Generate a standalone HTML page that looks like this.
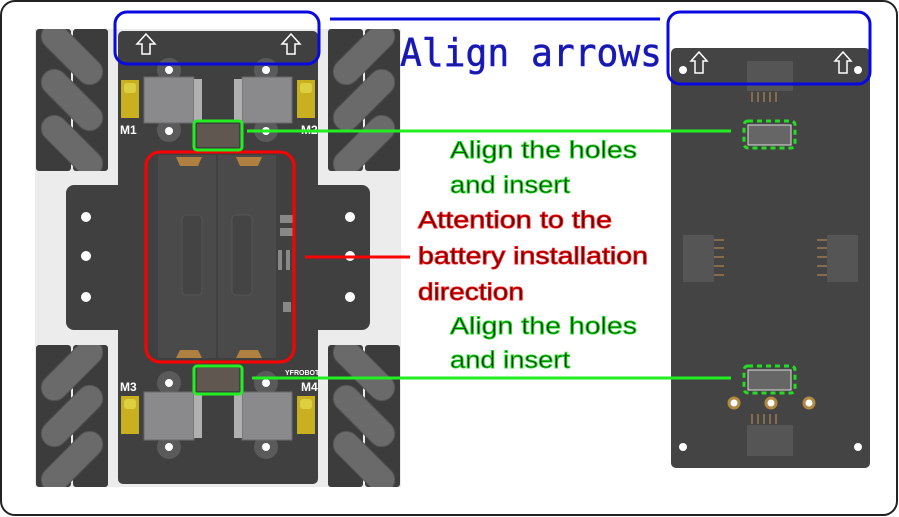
<!DOCTYPE html>
<html><head><meta charset="utf-8"><style>
html,body{margin:0;padding:0;background:#fff;}
svg{display:block;}
</style></head><body>
<svg width="899" height="517" viewBox="0 0 899 517" style="font-family:'Liberation Sans','DejaVu Sans',sans-serif">
<defs>
<clipPath id="cFL"><rect x="36" y="29" width="72" height="142"/></clipPath>
<clipPath id="cFR"><rect x="328" y="29" width="72" height="142"/></clipPath>
<clipPath id="cRL"><rect x="36" y="345" width="72" height="142"/></clipPath>
<clipPath id="cRR"><rect x="328" y="345" width="72" height="142"/></clipPath>
</defs>
<rect x="1" y="1" width="896" height="514" rx="14" fill="#fff" stroke="#222" stroke-width="2"/>

<g>
<rect x="35" y="29" width="366" height="458" fill="#ececec"/>
<g clip-path="url(#cFL)">
<rect x="36" y="29" width="35" height="142" rx="3" fill="#3c3c3c"/><rect x="73" y="29" width="35" height="142" rx="3" fill="#3c3c3c"/>
<g fill="#6a6a6a" stroke="#555"><rect x="34" y="41" width="76" height="26" rx="13" transform="rotate(45 72 54)"/><rect x="34" y="87" width="76" height="26" rx="13" transform="rotate(45 72 100)"/><rect x="34" y="133" width="76" height="26" rx="13" transform="rotate(45 72 146)"/></g></g>
<g clip-path="url(#cFR)">
<rect x="328" y="29" width="35" height="142" rx="3" fill="#3c3c3c"/><rect x="365" y="29" width="35" height="142" rx="3" fill="#3c3c3c"/>
<g fill="#6a6a6a" stroke="#555"><rect x="326" y="41" width="76" height="26" rx="13" transform="rotate(-45 364 54)"/><rect x="326" y="87" width="76" height="26" rx="13" transform="rotate(-45 364 100)"/><rect x="326" y="133" width="76" height="26" rx="13" transform="rotate(-45 364 146)"/></g></g>
<g clip-path="url(#cRL)">
<rect x="36" y="345" width="35" height="142" rx="3" fill="#3c3c3c"/><rect x="73" y="345" width="35" height="142" rx="3" fill="#3c3c3c"/>
<g fill="#6a6a6a" stroke="#555"><rect x="34" y="357" width="76" height="26" rx="13" transform="rotate(-45 72 370)"/><rect x="34" y="403" width="76" height="26" rx="13" transform="rotate(-45 72 416)"/><rect x="34" y="449" width="76" height="26" rx="13" transform="rotate(-45 72 462)"/></g></g>
<g clip-path="url(#cRR)">
<rect x="328" y="345" width="35" height="142" rx="3" fill="#3c3c3c"/><rect x="365" y="345" width="35" height="142" rx="3" fill="#3c3c3c"/>
<g fill="#6a6a6a" stroke="#555"><rect x="326" y="357" width="76" height="26" rx="13" transform="rotate(45 364 370)"/><rect x="326" y="403" width="76" height="26" rx="13" transform="rotate(45 364 416)"/><rect x="326" y="449" width="76" height="26" rx="13" transform="rotate(45 364 462)"/></g></g>
<g fill="#404040">
<rect x="118" y="31" width="200" height="453" rx="5"/>
<rect x="66" y="185" width="304" height="145" rx="8"/>
</g>
<g fill="#fff">
<circle cx="86" cy="217" r="5"/><circle cx="86" cy="256" r="5"/><circle cx="86" cy="297" r="5"/>
<circle cx="350" cy="217" r="5"/><circle cx="350" cy="256" r="5"/><circle cx="350" cy="297" r="5"/>
</g>
<g>
<g fill="#5a5a5a"><circle cx="169" cy="70" r="12"/><circle cx="266" cy="70" r="12"/><circle cx="169" cy="130" r="12"/><circle cx="266" cy="130" r="12"/>
<circle cx="169" cy="383" r="12"/><circle cx="266" cy="383" r="12"/><circle cx="169" cy="447" r="12"/><circle cx="266" cy="447" r="12"/></g>
<g fill="#fff"><circle cx="169" cy="70" r="4"/><circle cx="266" cy="70" r="4"/><circle cx="169" cy="131" r="4"/><circle cx="266" cy="131" r="4"/>
<circle cx="169" cy="383" r="4"/><circle cx="266" cy="383" r="4"/><circle cx="169" cy="447" r="4"/><circle cx="266" cy="447" r="4"/></g>
<g fill="#8a8a8c" stroke="#6a6a6a"><rect x="144" y="77" width="50" height="46"/><rect x="242" y="77" width="50" height="46"/><rect x="144" y="392" width="50" height="48"/><rect x="242" y="392" width="50" height="48"/></g>
<g fill="#b0b0b0"><rect x="194" y="79" width="8" height="42"/><rect x="234" y="79" width="8" height="42"/><rect x="194" y="394" width="8" height="44"/><rect x="234" y="394" width="8" height="44"/></g>
<g fill="#c8b020"><rect x="121" y="80" width="18" height="38"/><rect x="297" y="80" width="18" height="38"/><rect x="121" y="396" width="18" height="38"/><rect x="297" y="396" width="18" height="38"/></g>
<g fill="#ddd040"><rect x="124" y="83" width="12" height="10" rx="3"/><rect x="300" y="83" width="12" height="10" rx="3"/><rect x="124" y="399" width="12" height="10" rx="3"/><rect x="300" y="399" width="12" height="10" rx="3"/></g>
</g>
<g fill="#fff" font-size="12" font-weight="bold">
<text x="120" y="134">M1</text>
<text x="301" y="134">M2</text>
<text x="120" y="391">M3</text>
<text x="301" y="391">M4</text>
<text x="285" y="375" font-size="7">YFROBOT</text>
</g>
<g>
<rect x="158" y="155" width="58" height="203" fill="#4a4a4a"/><rect x="218" y="155" width="58" height="203" fill="#4a4a4a"/>
<rect x="182" y="215" width="20" height="80" rx="4" fill="#444" stroke="#555"/><rect x="232" y="215" width="20" height="80" rx="4" fill="#444" stroke="#555"/>
<g fill="#b08040"><polygon points="176,157 202,157 198,166 180,166"/><polygon points="236,157 262,157 258,166 240,166"/><polygon points="176,358 202,358 198,350 180,350"/><polygon points="236,358 262,358 258,350 240,350"/></g>
<g fill="#888"><rect x="280" y="215" width="14" height="8"/><rect x="280" y="228" width="14" height="8"/><rect x="278" y="250" width="4" height="20"/><rect x="286" y="250" width="4" height="20"/><rect x="283" y="302" width="8" height="10"/></g>
</g>
<g>
<rect x="197" y="124" width="42" height="23" fill="#605850"/><rect x="197" y="368" width="42" height="23" fill="#605850"/>
</g>
<g fill="#404040" stroke="#fff" stroke-width="1.5">
<polygon points="146,34 155,44 150,44 150,54 142,54 142,44 137,44"/>
<polygon points="291,34 300,44 295,44 295,54 287,54 287,44 282,44"/>
</g>
</g>

<g>
<rect x="671" y="48" width="199" height="420" rx="5" fill="#444"/>
<g fill="#555"><rect x="747" y="61" width="46" height="30"/><rect x="683" y="235" width="31" height="47"/><rect x="827" y="235" width="31" height="47"/><rect x="747" y="425" width="46" height="31"/></g>
<g stroke="#9a7a50" stroke-width="1.5">
<path d="M752 92v10M758 92v10M764 92v10M770 92v10M776 92v10M752 414v10M758 414v10M764 414v10M770 414v10M776 414v10"/>
<path d="M714 240h10M714 248h10M714 257h10M714 266h10M714 275h10M817 240h10M817 248h10M817 257h10M817 266h10M817 275h10"/>
</g>
<g fill="#fff"><circle cx="683" cy="70" r="4"/><circle cx="858" cy="70" r="4"/><circle cx="683" cy="447" r="4"/><circle cx="858" cy="447" r="4"/></g>
<g fill="#fff" stroke="#b08a40" stroke-width="3"><circle cx="734" cy="403" r="5"/><circle cx="771" cy="403" r="5"/><circle cx="809" cy="403" r="5"/></g>
<g fill="#666" stroke="#ddd" stroke-width="1"><rect x="748" y="125" width="43" height="20"/><rect x="748" y="370" width="43" height="20"/></g>
<g fill="#444" stroke="#fff" stroke-width="1.5">
<polygon points="699,52 707,61 703,61 703,73 695,73 695,61 691,61"/>
<polygon points="843,52 851,61 847,61 847,73 839,73 839,61 835,61"/>
</g>
<g fill="none" stroke="#22dd22" stroke-width="3" stroke-dasharray="5,4">
<rect x="744" y="121" width="51" height="27" rx="4"/>
<rect x="744" y="366" width="51" height="27" rx="4"/>
</g>
</g>

<g fill="none" stroke-width="3" stroke-linejoin="round">
<rect x="115" y="12" width="204" height="52" rx="12" stroke="#0a0ae0"/>
<rect x="668" y="12" width="202" height="72" rx="12" stroke="#0a0ae0"/>
<line x1="330" y1="19" x2="660" y2="19" stroke="#0a0ae0"/>
<rect x="146" y="152" width="148" height="210" rx="14" stroke="#ff0000"/>
<line x1="305" y1="257" x2="410" y2="257" stroke="#ff0000"/>
<rect x="194" y="121" width="48" height="29" rx="3" stroke="#22ee22"/>
<rect x="194" y="366" width="48" height="28" rx="3" stroke="#22ee22"/>
<line x1="247" y1="131" x2="731" y2="131" stroke="#22ee22"/>
<line x1="252" y1="378" x2="731" y2="378" stroke="#22ee22"/>
</g>

<text x="400" y="66" style="font-family:'DejaVu Sans Mono','Liberation Mono',monospace" font-size="38" fill="#1a1a9a" stroke="#2020ff" stroke-width="0.6" textLength="262" lengthAdjust="spacingAndGlyphs">Align arrows</text>
<g font-size="24" fill="#103010" stroke="#22dd22" stroke-width="0.9">
<text x="450" y="158" textLength="187" lengthAdjust="spacingAndGlyphs">Align the holes</text>
<text x="450" y="193" textLength="120" lengthAdjust="spacingAndGlyphs">and insert</text>
<text x="450" y="334" textLength="187" lengthAdjust="spacingAndGlyphs">Align the holes</text>
<text x="450" y="368" textLength="120" lengthAdjust="spacingAndGlyphs">and insert</text>
</g>
<g font-size="24" fill="#500000" stroke="#ff1010" stroke-width="0.9">
<text x="418" y="228" textLength="194" lengthAdjust="spacingAndGlyphs">Attention to the</text>
<text x="418" y="264" textLength="230" lengthAdjust="spacingAndGlyphs">battery installation</text>
<text x="418" y="300" textLength="106" lengthAdjust="spacingAndGlyphs">direction</text>
</g>
</svg>
</body></html>
